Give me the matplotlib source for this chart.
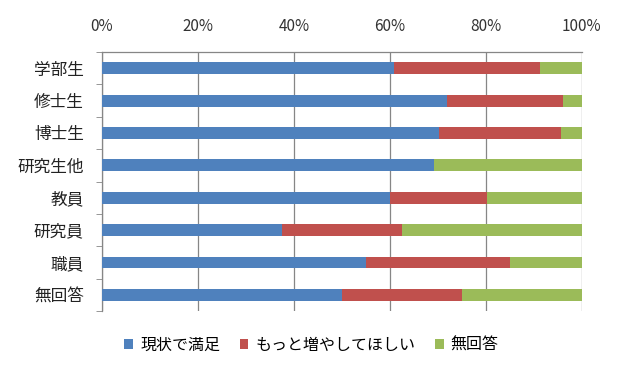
import numpy as np
import matplotlib
matplotlib.use("Agg")
import matplotlib.pyplot as plt
from matplotlib.ticker import PercentFormatter

plt.rcParams['font.family'] = ['Noto Sans CJK JP', 'DejaVu Sans']

# categories (top to bottom) and share of each answer in %
categories = ["学部生", "修士生", "博士生", "研究生他", "教員", "研究員", "職員", "無回答"]
satisfied = [60.8, 72.0, 70.2, 69.1, 60.0, 37.5, 55.0, 50.0]
want_more = [30.5, 24.0, 25.4, 0.0, 20.3, 25.0, 30.0, 25.0]
no_answer = [8.7, 4.0, 4.4, 30.9, 19.7, 37.5, 15.0, 25.0]
series_names = ["現状で満足", "もっと増やしてほしい", "無回答"]
colors = ["#4F81BD", "#C0504D", "#9BBB59"]

fig = plt.figure(figsize=(6.17, 3.69), dpi=100)
ax = fig.add_axes([0.165, 0.157, 0.778, 0.702])

y = np.arange(len(categories))
left = np.zeros(len(categories))
for vals, name, c in zip([satisfied, want_more, no_answer], series_names, colors):
    ax.barh(y, vals, left=left, height=0.37, color=c, label=name, zorder=3)
    left += np.array(vals)

ax.set_xlim(0, 100)
ax.set_ylim(len(categories) - 0.5, -0.5)
ax.set_xticks(np.arange(0, 101, 20))
ax.xaxis.set_major_formatter(PercentFormatter(decimals=0))
ax.xaxis.tick_top()
ax.tick_params(axis='x', length=0, pad=12, labelsize=11, colors="#333333")

ax.set_yticks(y)
ax.set_yticklabels(categories, fontsize=12, color="#222222")
ax.set_yticks(np.arange(-0.5, len(categories)), minor=True)
ax.tick_params(axis='y', which='major', length=0, pad=13)
ax.tick_params(axis='y', which='minor', length=4, color="#868686", direction='out')

ax.grid(axis='x', color="#868686", linewidth=0.9, zorder=0)
for side in ['bottom', 'right']:
    ax.spines[side].set_visible(False)
for side in ['left', 'top']:
    ax.spines[side].set_color("#868686")
    ax.spines[side].set_linewidth(0.9)

handles, labels = ax.get_legend_handles_labels()
fig.legend(handles, labels, loc='center', bbox_to_anchor=(0.505, 0.065), ncol=3,
           frameon=False, fontsize=11.5, handlelength=0.55, handleheight=0.55,
           handletextpad=0.45, columnspacing=1.2)

fig.savefig("out.png", dpi=100)
